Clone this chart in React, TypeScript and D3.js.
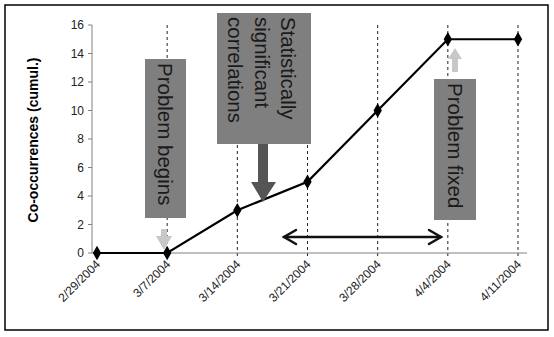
import * as d3 from "d3";

const dates = ["2/29/2004", "3/7/2004", "3/14/2004", "3/21/2004", "3/28/2004", "4/4/2004", "4/11/2004"];
const counts = [0, 0, 3, 5, 10, 15, 15];
const yTicks = [0, 2, 4, 6, 8, 10, 12, 14, 16];

const W = 554;
const H = 337;
const BOX = "#7f7f7f";
const FONT = "Liberation Sans, Arial, sans-serif";

// rotated label inside a gray box, reading top to bottom
const VLabel = ({ x, y, lines, size = 20.5 }: { x: number; y: number; lines: string[]; size?: number }) => (
  <g transform={`translate(${x},${y}) rotate(90)`}>
    {lines.map((l, i) => (
      <text
        key={l}
        x={0}
        y={(i - (lines.length - 1) / 2) * 26.5}
        dominantBaseline="central"
        fontSize={size}
        fill="#1a1a1a"
        fontFamily={FONT}
      >
        {l}
      </text>
    ))}
  </g>
);

export default function App() {
  const x = d3.scalePoint<string>().domain(dates).range([97, 518]);
  const y = d3.scaleLinear().domain([0, 16]).range([253, 25]);

  const line = d3
    .line<number>()
    .x((_, i) => x(dates[i])!)
    .y((d) => y(d));

  const diamond = d3.symbol(d3.symbolDiamond, 60)()!;

  return (
    <svg width={W} height={H} style={{ position: "absolute", left: 0, top: 0, background: "#fff" }}>
      <rect x={5} y={5} width={543} height={325} fill="#fff" stroke="#000" strokeWidth={1.5} />

      {/* dashed verticals */}
      {dates.slice(1).map((d) => (
        <line key={d} x1={x(d)} x2={x(d)} y1={y(16)} y2={258} stroke="#222" strokeWidth={1} strokeDasharray="3,3" />
      ))}

      {/* y axis */}
      <line x1={92} x2={92} y1={y(16)} y2={y(0)} stroke="#808080" strokeWidth={1} />
      {yTicks.map((t) => (
        <g key={t}>
          <line x1={88} x2={92} y1={y(t)} y2={y(t)} stroke="#808080" />
          <text x={84} y={y(t)} dy="0.35em" textAnchor="end" fontSize={12} fill="#222" fontFamily={FONT}>
            {t}
          </text>
        </g>
      ))}
      <line x1={92} x2={527} y1={y(0)} y2={y(0)} stroke="#808080" strokeWidth={1} />

      {dates.map((d) => (
        <g key={d} transform={`translate(${x(d)! + 1},262)`}>
          <text transform="rotate(-45)" textAnchor="end" dy="0.35em" fontSize={12} fill="#222" fontFamily={FONT}>
            {d}
          </text>
        </g>
      ))}

      <g transform="translate(33,140)">
        <text
          transform="rotate(-90)"
          textAnchor="middle"
          dy="0.35em"
          fontSize={14}
          fontWeight="bold"
          fill="#000"
          fontFamily={FONT}
        >
          Co-occurrences (cumul.)
        </text>
      </g>

      {/* series */}
      <path d={line(counts)!} fill="none" stroke="#000" strokeWidth={2.2} />
      {counts.map((c, i) => (
        <path key={i} d={diamond} transform={`translate(${x(dates[i])},${y(c)})`} fill="#000" />
      ))}

      {/* Problem begins */}
      <rect x={145} y={59} width={41} height={159} fill={BOX} />
      <VLabel x={165.5} y={63} lines={["Problem begins"]} />
      <path d="M161,229 L167,229 L167,236 L172,236 L164,250 L156,236 L161,236 Z" fill="#c8c8c8" />

      {/* Statistically significant correlations */}
      <rect x={217} y={13} width={94} height={131} fill={BOX} />
      <VLabel x={262} y={17} lines={["Statistically", "significant", "correlations"]} />
      <path d="M258,144 L268,144 L268,182 L276,182 L263,202 L251,182 L258,182 Z" fill="#555" />

      {/* Problem fixed */}
      <rect x={434} y={79} width={42} height={141} fill={BOX} />
      <VLabel x={455} y={83} lines={["Problem fixed"]} />
      <path d="M452,72 L458,72 L458,59 L462,59 L455,48 L448,59 L452,59 Z" fill="#c8c8c8" />

      {/* duration arrow */}
      <g stroke="#111" strokeWidth={2.5} fill="none" strokeLinecap="round">
        <line x1={284} x2={441} y1={237} y2={237} />
        <polyline points="296,230 284,237 296,244" />
        <polyline points="429,230 441,237 429,244" />
      </g>
    </svg>
  );
}
